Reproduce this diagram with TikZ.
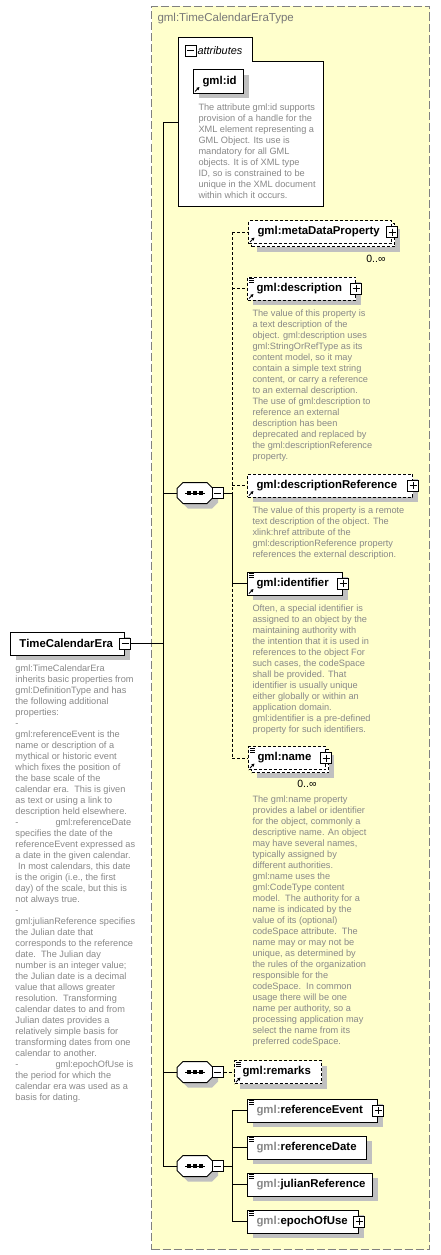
\documentclass[tikz,border=0pt]{standalone}
\usepackage{fontspec}
\setmainfont{Liberation Sans}
\usetikzlibrary{shadows,arrows.meta}
\definecolor{bgyellow}{RGB}{255,255,204}
\definecolor{desccol}{RGB}{136,136,136}
\definecolor{titlecol}{RGB}{120,120,120}
\definecolor{shadowcol}{RGB}{192,192,192}
\definecolor{framecol}{RGB}{128,128,128}
\newcommand\lblfont{\fontsize{11.4}{13}\selectfont\bfseries}
\newcommand\desctext[1]{{\fontsize{9.2}{11}\selectfont\color{desccol}\begin{tabular}[t]{@{}l@{}}#1\end{tabular}}}
\newcommand\elab[2]{\makebox[#1pt][l]{\hspace{9pt}#2}}
\newcommand\gp{\textcolor{desccol}{gml:}}
\newcommand\docicon[1]{\foreach \dy in {2,4,6}{\draw[line width=0.6pt] ([xshift=2pt,yshift=-\dy pt]#1.north west) -- ++(5,0);}}
\newcommand\refarrow[1]{\draw[-{Triangle[length=3pt,width=3pt]}, line width=0.8pt] ([xshift=2pt,yshift=2pt]#1.south west) -- ++(4.5,-4.5);}
\newcommand\octa[2]{\path[#1] ([xshift=6pt]#2.north west) -- ([xshift=-6pt]#2.north east) -- ([yshift=-6pt]#2.north east) -- ([yshift=6pt]#2.south east) -- ([xshift=-6pt]#2.south east) -- ([xshift=6pt]#2.south west) -- ([yshift=6pt]#2.south west) -- ([yshift=-6pt]#2.north west) -- cycle;}
\begin{document}
\begin{tikzpicture}[x=1pt,y=-1pt,line width=1pt,
 ebase/.style={draw, fill=white, line width=1pt, minimum height=23pt, inner xsep=0pt, inner ysep=0pt, anchor=west, font=\lblfont},
 shad/.style={drop shadow={shadow xshift=5pt, shadow yshift=-5pt, fill=shadowcol, opacity=1}},
 elem/.style={ebase, shad},
 optelem/.style={ebase, shad, dash pattern=on 3pt off 2pt},
 optfront/.style={ebase, dash pattern=on 3pt off 2pt},
 pmbox/.style={draw, fill=white, line width=1pt, minimum size=11pt, inner sep=0pt, anchor=center},
 minusbox/.style={pmbox, path picture={\draw[line width=1pt] ([xshift=2pt]path picture bounding box.west) -- ([xshift=-2pt]path picture bounding box.east);}},
 plusbox/.style={pmbox, path picture={\draw[line width=1pt] ([xshift=2pt]path picture bounding box.west) -- ([xshift=-2pt]path picture bounding box.east); \draw[line width=1pt] ([yshift=-2pt]path picture bounding box.north) -- ([yshift=2pt]path picture bounding box.south);}},
 seqbox/.style={draw=none, minimum width=35pt, minimum height=20pt, inner sep=0pt},
 desc/.style={anchor=base west, inner sep=0pt},
 conn/.style={line width=1pt},
 optconn/.style={line width=1pt, dash pattern=on 3pt off 2pt},
 occ/.style={anchor=base east, inner sep=0pt, font=\fontsize{10.5}{12}\selectfont}]
\useasboundingbox (0,0) rectangle (440,1255);
\fill[white] (0,0) rectangle (440,1255);
% outer complex type frame
\node[draw=framecol, fill=bgyellow, dash pattern=on 8pt off 3pt, line width=1pt, minimum width=278pt, minimum height=1243pt, anchor=north west, inner sep=0pt] (frame) at (151,6) {};
\node[anchor=west, inner sep=0pt, font=\fontsize{11.5}{13}\selectfont, text=titlecol] (title) at (157,19) {gml:TimeCalendarEraType};
% attributes container
\draw[fill=white] (178,206) -- (178,38) -- (252,38) -- (252,62) -- (323,62) -- (323,206) -- cycle;
\node[minusbox] (attrm) at (190.5,51) {};
\node[anchor=west, inner sep=0pt, font=\fontsize{10.9}{12}\selectfont\itshape] (attrlbl) at (197,50.5) {attributes};
\node[elem] (gid) at (193,81.5) {\elab{50}{gml:id}};
\refarrow{gid}
\node[desc] (gidd) at (198,110.5) {\desctext{The attribute gml:id supports\\provision of a handle for the\\XML element representing a\\GML Object. Its use is\\mandatory for all GML\\objects. It is of XML type\\ID, so is constrained to be\\unique in the XML document\\within which it occurs.}};
\coordinate (attrW) at (178,122);
% root element
\node[elem] (tce) at (10,643.5) {\elab{114}{TimeCalendarEra}};
\node[minusbox] (tcem) at (tce.east) {};
\node[desc] (tced) at (15,671) {\desctext{gml:TimeCalendarEra\\inherits basic properties from\\gml:DefinitionType and has\\the following additional\\properties:\\-\\gml:referenceEvent is the\\name or description of a\\mythical or historic event\\which fixes the position of\\the base scale of the\\calendar era.\ \ This is given\\as text or using a link to\\description held elsewhere.\\\makebox[40pt][l]{-}gml:referenceDate\\specifies the date of the\\referenceEvent expressed as\\a date in the given calendar.\\\ In most calendars, this date\\is the origin (i.e., the first\\day) of the scale, but this is\\not always true.\\-\\gml:julianReference specifies\\the Julian date that\\corresponds to the reference\\date.\ \ The Julian day\\number is an integer value;\\the Julian date is a decimal\\value that allows greater\\resolution.\ \ Transforming\\calendar dates to and from\\Julian dates provides a\\relatively simple basis for\\transforming dates from one\\calendar to another.\\\makebox[40pt][l]{-}gml:epochOfUse is\\the period for which the\\calendar era was used as a\\basis for dating.}};
% main vertical line
\coordinate (mTop) at (163,122);
\coordinate (mBot) at (163,1166);
\draw[conn] (attrW) -- (mTop) -- (mBot);
\draw[conn] (tcem.east) -- (tcem.east -| mTop);
% sequences
\foreach \s/\yy in {s1/493,s2/1072,s3/1166}{
  \node[seqbox] (\s sh) at (200,\yy+5) {};
  \node[seqbox] (\s) at (195,\yy) {};
  \octa{fill=shadowcol}{\s sh}
  \octa{draw, fill=white, line width=1pt}{\s}
  \node[minusbox] (\s m) at (217.5,\yy) {};
  \draw[line width=1pt] ([xshift=-10pt]\s.center) -- ([xshift=10pt]\s.center);
  \foreach \dx in {-6,0,6}{\fill ([xshift=\dx pt]\s.center) +(-1.6,-1.6) rectangle +(1.6,1.6);}
  \draw[conn] (\s.west) -- (\s.west -| mTop);
}
\coordinate (cx) at (232,0);
% first sequence children
\node[optelem] (mdb) at (251,235) {\elab{143}{}};
\node[optfront] (md) at (248,232) {\elab{143}{gml:metaDataProperty}};
\node[plusbox] (mdp) at (md.east) {};
\refarrow{md}
\node[occ] (mdo) at (386,262) {0..∞};
\node[optelem] (dsc) at (247,288.5) {\elab{108}{gml:description}};
\node[plusbox] (dscp) at (dsc.east) {};
\docicon{dsc}
\refarrow{dsc}
\node[desc] (dscd) at (252,316) {\desctext{The value of this property is\\a text description of the\\object. gml:description uses\\gml:StringOrRefType as its\\content model, so it may\\contain a simple text string\\content, or carry a reference\\to an external description.\\The use of gml:description to\\reference an external\\description has been\\deprecated and replaced by\\the gml:descriptionReference\\property.}};
\node[optelem] (dref) at (247,485.5) {\elab{165}{gml:descriptionReference}};
\node[plusbox] (drefp) at (dref.east) {};
\refarrow{dref}
\node[desc] (drefd) at (252,513) {\desctext{The value of this property is a remote\\text description of the object. The\\xlink:href attribute of the\\gml:descriptionReference property\\references the external description.}};
\node[elem] (idf) at (247,583.5) {\elab{95}{gml:identifier}};
\node[plusbox] (idfp) at (idf.east) {};
\docicon{idf}
\refarrow{idf}
\node[desc] (idfd) at (252,611) {\desctext{Often, a special identifier is\\assigned to an object by the\\maintaining authority with\\the intention that it is used in\\references to the object For\\such cases, the codeSpace\\shall be provided. That\\identifier is usually unique\\either globally or within an\\application domain.\\gml:identifier is a pre-defined\\property for such identifiers.}};
\node[optelem] (nmb) at (251,761) {\elab{77}{}};
\node[optfront] (nm) at (248,758) {\elab{77}{gml:name}};
\node[plusbox] (nmp) at (nm.east) {};
\docicon{nm}
\refarrow{nm}
\node[occ] (nmo) at (317,787) {0..∞};
\node[desc] (nmd) at (252,802) {\desctext{The gml:name property\\provides a label or identifier\\for the object, commonly a\\descriptive name. An object\\may have several names,\\typically assigned by\\different authorities.\\gml:name uses the\\gml:CodeType content\\model.\ \ The authority for a\\name is indicated by the\\value of its (optional)\\codeSpace attribute.\ \ The\\name may or may not be\\unique, as determined by\\the rules of the organization\\responsible for the\\codeSpace.\ \ In common\\usage there will be one\\name per authority, so a\\processing application may\\select the name from its\\preferred codeSpace.}};
\draw[conn] (s1m.east) -- (s1m.east -| cx);
\draw[optconn] (md.west -| cx) -- (s1m.east -| cx);
\draw[conn] (s1m.east -| cx) -- (idf.west -| cx);
\draw[optconn] (idf.west -| cx) -- (nm.west -| cx);
\draw[optconn] (md.west -| cx) -- (md.west);
\draw[optconn] (dsc.west -| cx) -- (dsc.west);
\draw[optconn] (dref.west -| cx) -- (dref.west);
\draw[conn] (idf.west -| cx) -- (idf.west);
\draw[optconn] (nm.west -| cx) -- (nm.west);
% second sequence
\node[optelem] (rem) at (234,1072) {\makebox[87pt][l]{\hspace{8pt}gml:remarks}};
\docicon{rem}
\refarrow{rem}
\draw[optconn] (s2m.east) -- (rem.west);
% third sequence
\node[elem] (rev) at (247,1110.5) {\elab{130}{\gp referenceEvent}};
\node[plusbox] (revp) at (rev.east) {};
\docicon{rev}
\node[elem] (rdt) at (247,1147.5) {\elab{119}{\gp referenceDate}};
\docicon{rdt}
\node[elem] (jr) at (247,1184.5) {\elab{125}{\gp julianReference}};
\docicon{jr}
\node[elem] (eu) at (247,1221.5) {\elab{111}{\gp epochOfUse}};
\node[plusbox] (eup) at (eu.east) {};
\docicon{eu}
\draw[conn] (s3m.east) -- (s3m.east -| cx);
\draw[conn] (rev.west -| cx) -- (eu.west -| cx);
\foreach \c in {rev,rdt,jr,eu}{\draw[conn] (\c.west -| cx) -- (\c.west);}
\end{tikzpicture}
\end{document}
